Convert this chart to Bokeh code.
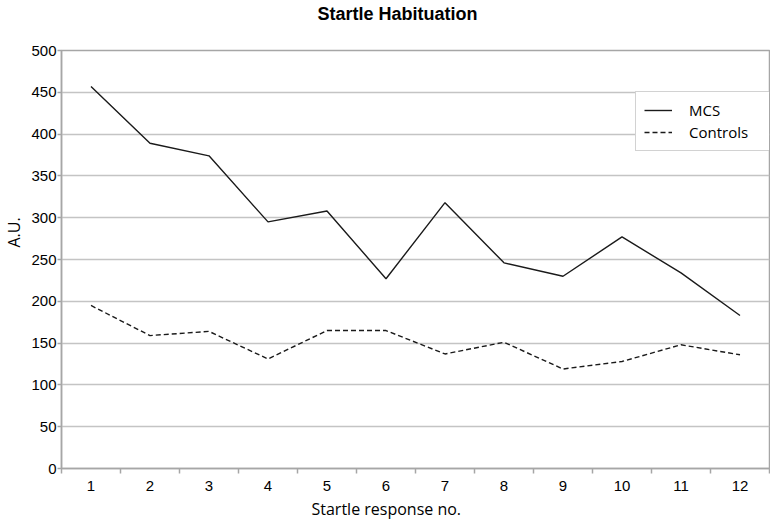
from bokeh.plotting import figure
from bokeh.models import Legend, LegendItem, FixedTicker, Range1d, Title
from bokeh.embed import file_html
from bokeh.resources import INLINE

# ---- data ----
responses = [1, 2, 3, 4, 5, 6, 7, 8, 9, 10, 11, 12]
mcs = [457, 389, 374, 295, 308, 227, 318, 246, 230, 277, 234, 183]
controls = [195, 159, 164, 131, 165, 165, 137, 151, 119, 128, 148, 136]
y_ticks = [0, 50, 100, 150, 200, 250, 300, 350, 400, 450, 500]
band_edges = [0.5 + i for i in range(13)]

title_text = "Startle Habituation"
x_label = "Startle response no."
y_label = "A.U."

AXIS_GRAY = "#a6a6a6"
GRID_GRAY = "#c4c4c4"
TICK_FONT = "Liberation Sans"
TEXT_FONT = "Open Sans"

p = figure(width=770, height=526, output_backend="svg", toolbar_location=None,
           x_range=Range1d(0.5, 12.5), y_range=Range1d(0, 500),
           min_border_left=61, min_border_right=1, min_border_top=50,
           min_border_bottom=58)
p.title.visible = False
p.background_fill_color = "white"
p.border_fill_color = "white"
p.outline_line_color = AXIS_GRAY
p.outline_line_width = 1.5

p.xgrid.visible = False
p.ygrid.grid_line_color = GRID_GRAY
p.ygrid.grid_line_width = 1.5

# y axis
p.yaxis.ticker = FixedTicker(ticks=y_ticks)
p.yaxis.axis_line_color = AXIS_GRAY
p.yaxis.axis_line_width = 1.5
p.yaxis.major_tick_line_color = AXIS_GRAY
p.yaxis.major_tick_line_width = 1.5
p.yaxis.major_tick_out = 4
p.yaxis.major_tick_in = 0
p.yaxis.minor_tick_out = 0
p.yaxis.minor_tick_in = 0
p.yaxis.major_label_standoff = 1
p.yaxis.major_label_text_font = TICK_FONT
p.yaxis.major_label_text_font_size = "15px"
p.yaxis.major_label_text_color = "black"

# x axis
p.xaxis.ticker = FixedTicker(ticks=responses, minor_ticks=band_edges)
p.xaxis.axis_line_color = AXIS_GRAY
p.xaxis.axis_line_width = 1.5
p.xaxis.major_tick_out = 0
p.xaxis.major_tick_in = 0
p.xaxis.minor_tick_out = 5
p.xaxis.minor_tick_in = 0
p.xaxis.minor_tick_line_color = AXIS_GRAY
p.xaxis.minor_tick_line_width = 1.5
p.xaxis.major_label_standoff = 7
p.xaxis.major_label_text_font = TICK_FONT
p.xaxis.major_label_text_font_size = "15px"
p.xaxis.major_label_text_color = "black"

r_mcs = p.line(responses, mcs, line_color="#1a1a1a", line_width=1.4)
r_ctl = p.line(responses, controls, line_color="#1a1a1a", line_width=1.4,
               line_dash="5 3")

legend = Legend(items=[LegendItem(label="MCS", renderers=[r_mcs]),
                       LegendItem(label="Controls", renderers=[r_ctl])],
                location=(574, 317), padding=8, margin=0,
                glyph_width=28, glyph_height=20, label_height=20,
                label_width=72, spacing=2, label_standoff=17,
                border_line_color=AXIS_GRAY, border_line_width=1.5,
                background_fill_color="white", background_fill_alpha=1.0,
                label_text_font=TEXT_FONT, label_text_font_size="15px",
                label_text_color="black")
p.add_layout(legend)

# --- title: an empty spacer next to the frame pushes the title to the top
p.add_layout(Title(text=" ", text_font_size="10px", standoff=14), "above")
p.add_layout(Title(text=title_text, align="left", offset=256, standoff=0,
                   text_font=TICK_FONT, text_font_style="bold",
                   text_font_size="18px", text_color="black"), "above")

# --- x axis title, shifted along the bottom side
p.add_layout(Title(text=x_label, align="left", offset=250, standoff=4,
                   text_font=TEXT_FONT, text_font_size="16px",
                   text_font_style="normal", text_color="black"), "below")

# --- y axis title: a thin spacer pushes it to the left edge
p.add_layout(Title(text=" ", text_font_size="2px", standoff=0), "left")
p.add_layout(Title(text=y_label, align="left", offset=221, standoff=0,
                   text_font=TEXT_FONT, text_font_size="16px",
                   text_font_style="normal", text_color="black"), "left")

open("out.html", "w").write(file_html(p, INLINE))
